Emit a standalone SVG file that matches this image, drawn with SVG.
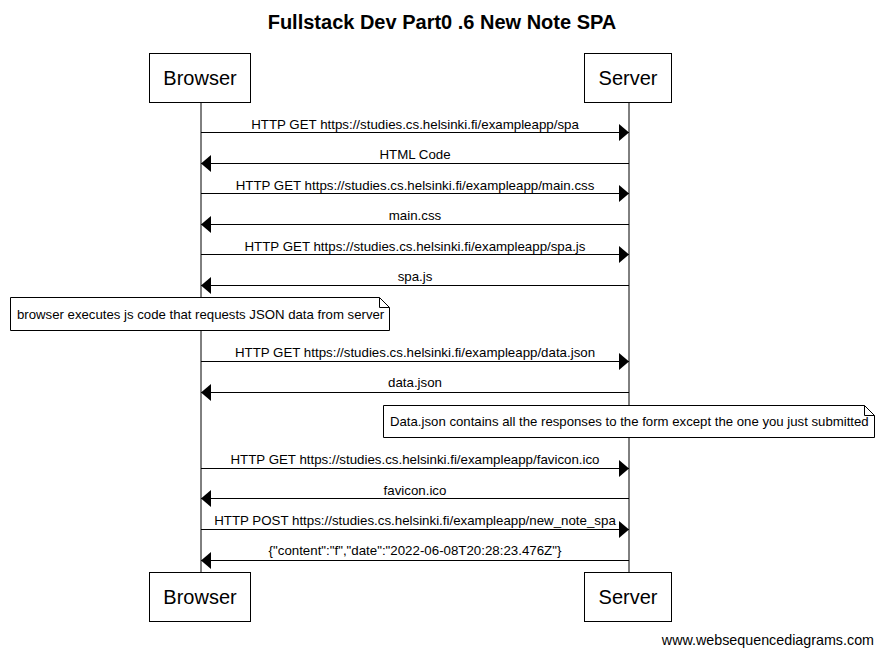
<svg xmlns="http://www.w3.org/2000/svg" width="883" height="656" viewBox="0 0 883 656">
<defs>
<style>
.box{fill:#fff;stroke:#000;stroke-width:1}
.pl{font-family:"Liberation Sans",Arial,sans-serif;font-size:20px;text-anchor:middle}
.ml{font-family:"Liberation Sans",Arial,sans-serif;font-size:13.3px;text-anchor:middle}
.nl{font-family:"Liberation Sans",Arial,sans-serif;font-size:13.2px}
.ln{stroke:#000;stroke-width:1;fill:none}
</style>
<marker id="ah" markerWidth="10" markerHeight="17" refX="10" refY="8.5" orient="auto" markerUnits="userSpaceOnUse">
<path d="M0,0 L10,8.5 L0,17 Z" fill="#000"/>
</marker>
</defs>
<rect width="883" height="656" fill="#fff"/>
<text x="442" y="29" font-family="'Liberation Sans',Arial,sans-serif" font-size="20" font-weight="bold" text-anchor="middle">Fullstack Dev Part0 .6 New Note SPA</text>
<g id="lifelines">
<line class="ln" x1="201" y1="102" x2="201" y2="572"/>
<line class="ln" x1="629" y1="102" x2="629" y2="572"/>
</g>
<g id="browser-top"><rect class="box" x="149.5" y="53.5" width="101" height="49"/><text class="pl" x="200" y="85">Browser</text></g>
<g id="server-top"><rect class="box" x="584.5" y="53.5" width="87" height="49"/><text class="pl" x="628" y="85">Server</text></g>
<g id="browser-bottom"><rect class="box" x="149.5" y="572.5" width="101" height="49"/><text class="pl" x="200" y="604">Browser</text></g>
<g id="server-bottom"><rect class="box" x="584.5" y="572.5" width="87" height="49"/><text class="pl" x="628" y="604">Server</text></g>
<g id="connectors">
<line class="ln" x1="201" y1="132.5" x2="629" y2="132.5" marker-end="url(#ah)"/>
<text class="ml" x="415" y="129">HTTP GET https://studies.cs.helsinki.fi/exampleapp/spa</text>
<line class="ln" x1="629" y1="163.5" x2="201" y2="163.5" marker-end="url(#ah)"/>
<text class="ml" x="415" y="159">HTML Code</text>
<line class="ln" x1="201" y1="193.5" x2="629" y2="193.5" marker-end="url(#ah)"/>
<text class="ml" x="415" y="190">HTTP GET https://studies.cs.helsinki.fi/exampleapp/main.css</text>
<line class="ln" x1="629" y1="224.5" x2="201" y2="224.5" marker-end="url(#ah)"/>
<text class="ml" x="415" y="220">main.css</text>
<line class="ln" x1="201" y1="254.5" x2="629" y2="254.5" marker-end="url(#ah)"/>
<text class="ml" x="415" y="251">HTTP GET https://studies.cs.helsinki.fi/exampleapp/spa.js</text>
<line class="ln" x1="629" y1="285.5" x2="201" y2="285.5" marker-end="url(#ah)"/>
<text class="ml" x="415" y="281">spa.js</text>
<line class="ln" x1="201" y1="361.5" x2="629" y2="361.5" marker-end="url(#ah)"/>
<text class="ml" x="415" y="357">HTTP GET https://studies.cs.helsinki.fi/exampleapp/data.json</text>
<line class="ln" x1="629" y1="392.5" x2="201" y2="392.5" marker-end="url(#ah)"/>
<text class="ml" x="415" y="387">data.json</text>
<line class="ln" x1="201" y1="468.5" x2="629" y2="468.5" marker-end="url(#ah)"/>
<text class="ml" x="415" y="464">HTTP GET https://studies.cs.helsinki.fi/exampleapp/favicon.ico</text>
<line class="ln" x1="629" y1="498.5" x2="201" y2="498.5" marker-end="url(#ah)"/>
<text class="ml" x="415" y="495">favicon.ico</text>
<line class="ln" x1="201" y1="529.5" x2="629" y2="529.5" marker-end="url(#ah)"/>
<text class="ml" x="415" y="525">HTTP POST https://studies.cs.helsinki.fi/exampleapp/new_note_spa</text>
<line class="ln" x1="629" y1="560.5" x2="201" y2="560.5" marker-end="url(#ah)"/>
<text class="ml" x="415" y="555">{"content":"f","date":"2022-06-08T20:28:23.476Z"}</text>
</g>
<g id="note1">
<path class="box" d="M10.5,297.5 H379.5 L389.5,307.5 V330.5 H10.5 Z"/>
<path class="ln" d="M379.5,297.5 V307.5 H389.5"/>
<text class="nl" x="17" y="319">browser executes js code that requests JSON data from server</text>
</g>
<g id="note2">
<path class="box" d="M383.5,405.5 H864.5 L874.5,415.5 V437.5 H383.5 Z"/>
<path class="ln" d="M864.5,405.5 V415.5 H874.5"/>
<text class="nl" x="390" y="426">Data.json contains all the responses to the form except the one you just submitted</text>
</g>
<text x="874" y="645" font-family="'Liberation Sans',Arial,sans-serif" font-size="14.3" text-anchor="end">www.websequencediagrams.com</text>
</svg>
